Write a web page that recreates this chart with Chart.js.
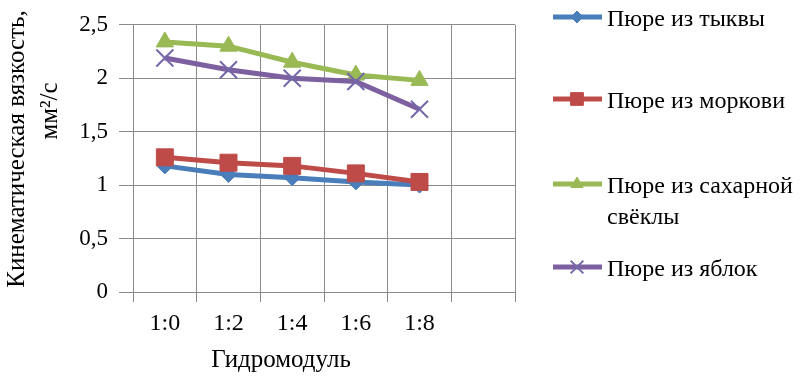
<!DOCTYPE html>
<html>
<head>
<meta charset="utf-8">
<script src="https://cdn.jsdelivr.net/npm/chart.js@4/dist/chart.umd.min.js"></script>
<style>
  html, body { margin: 0; padding: 0; background: #fff; }
</style>
</head>
<body>
<canvas id="myChart" width="812" height="389"></canvas>
<script>
const ctx = document.getElementById("myChart").getContext("2d");

// данные
const labels = ["1:0", "1:2", "1:4", "1:6", "1:8", ""];
const pumpkin = [1.18, 1.10, 1.07, 1.03, 1.00];
const carrot = [1.26, 1.21, 1.18, 1.11, 1.03];
const beet = [2.34, 2.30, 2.15, 2.03, 1.98];
const apple = [2.19, 2.08, 2.00, 1.97, 1.71];
const seriesNames = ["Пюре из тыквы", "Пюре из моркови", "Пюре из сахарной свёклы", "Пюре из яблок"];
const yTicks = [0, 0.5, 1, 1.5, 2, 2.5];

const FONT = "Liberation Serif, DejaVu Serif, Tinos, serif";
const GRID = "#8a8a8a";

const data = {
  labels: labels,
  datasets: [
    {
      label: seriesNames[0],
      data: pumpkin,
      borderColor: "#4A7EBB",
      backgroundColor: "#4A7EBB",
      pointStyle: "rectRot",
      pointRadius: 8,
      order: 4,
    },
    {
      label: seriesNames[1],
      data: carrot,
      borderColor: "#BE4B48",
      backgroundColor: "#BE4B48",
      pointStyle: "rect",
      pointRadius: 12,
      order: 3,
    },
    {
      label: seriesNames[2],
      data: beet,
      borderColor: "#98B954",
      backgroundColor: "#98B954",
      pointStyle: "triangle",
      pointRadius: 10,
      order: 2,
    },
    {
      label: seriesNames[3],
      data: apple,
      borderColor: "#7D60A0",
      backgroundColor: "#7D60A0",
      pointStyle: "crossRot",
      pointRadius: 12,
      pointBorderWidth: 2,
      pointBorderColor: "#7368a8",
      order: 1,
    },
  ],
};

// легенда и подписи осей рисуем сами
const extras = {
  id: "extras",
  afterDraw(chart) {
    const c = chart.ctx;
    c.save();
    c.fillStyle = "#000";
    c.textBaseline = "middle";

    // подпись оси Y
    c.font = "25px " + FONT;
    c.textAlign = "center";
    c.save();
    c.translate(17, 149);
    c.rotate(-Math.PI / 2);
    c.fillText("Кинематическая вязкость,", 0, 0);
    c.restore();
    c.save();
    c.translate(50, 111);
    c.rotate(-Math.PI / 2);
    c.fillText("мм²/с", 0, 0);
    c.restore();

    // подпись оси X
    c.font = "25px " + FONT;
    c.fillText("Гидромодуль", 281, 360);

    // легенда
    const rows = [[20], [102], [187, 218], [270]];
    const names = [["Пюре из тыквы"], ["Пюре из моркови"], ["Пюре из сахарной", "свёклы"], ["Пюре из яблок"]];
    const sizes = [6, 9, 7, 9];
    c.textAlign = "left";
    c.font = "24px " + FONT;
    chart.data.datasets.forEach((ds, i) => {
      const y = rows[i][0] - 3;
      c.strokeStyle = ds.borderColor;
      c.lineWidth = 5;
      c.beginPath();
      c.moveTo(553, y);
      c.lineTo(602, y);
      c.stroke();
      c.fillStyle = ds.backgroundColor;
      c.strokeStyle = ds.pointBorderColor || ds.borderColor;
      c.lineWidth = ds.pointBorderWidth || 1;
      Chart.helpers.drawPoint(c, { pointStyle: ds.pointStyle, radius: sizes[i], rotation: 0, borderWidth: c.lineWidth }, 577, y);
      c.fillStyle = "#000";
      names[i].forEach((t, k) => c.fillText(t, 607, rows[i][k]));
    });
    c.restore();
  },
};

const config = {
  type: "line",
  data: data,
  options: {
    responsive: false,
    animation: false,
    locale: "ru-RU",
    layout: { padding: { top: 16, right: 297, left: 0, bottom: 0 } },
    elements: {
      line: { borderWidth: 5, tension: 0 },
      point: { borderWidth: 1 },
    },
    plugins: {
      legend: { display: false },
      tooltip: { enabled: false },
    },
    scales: {
      x: {
        offset: true,
        grid: { offset: true, color: GRID, tickLength: 10, lineWidth: 1 },
        border: { color: GRID },
        ticks: { color: "#000", font: { family: FONT, size: 24 }, padding: 7 },
        afterFit(scale) { scale.height = 97; },
      },
      y: {
        min: 0,
        max: 2.5,
        afterBuildTicks(scale) { scale.ticks = yTicks.map((v) => ({ value: v })); },
        grid: { color: GRID, tickLength: 14, lineWidth: 1 },
        border: { color: GRID },
        ticks: {
          color: "#000",
          font: { family: FONT, size: 23 },
          padding: 11,
          callback: (v) => String(v).replace(".", ","),
        },
        afterFit(scale) { scale.width = 133; },
      },
    },
  },
  plugins: [extras],
};

new Chart(ctx, config);
</script>
</body>
</html>
